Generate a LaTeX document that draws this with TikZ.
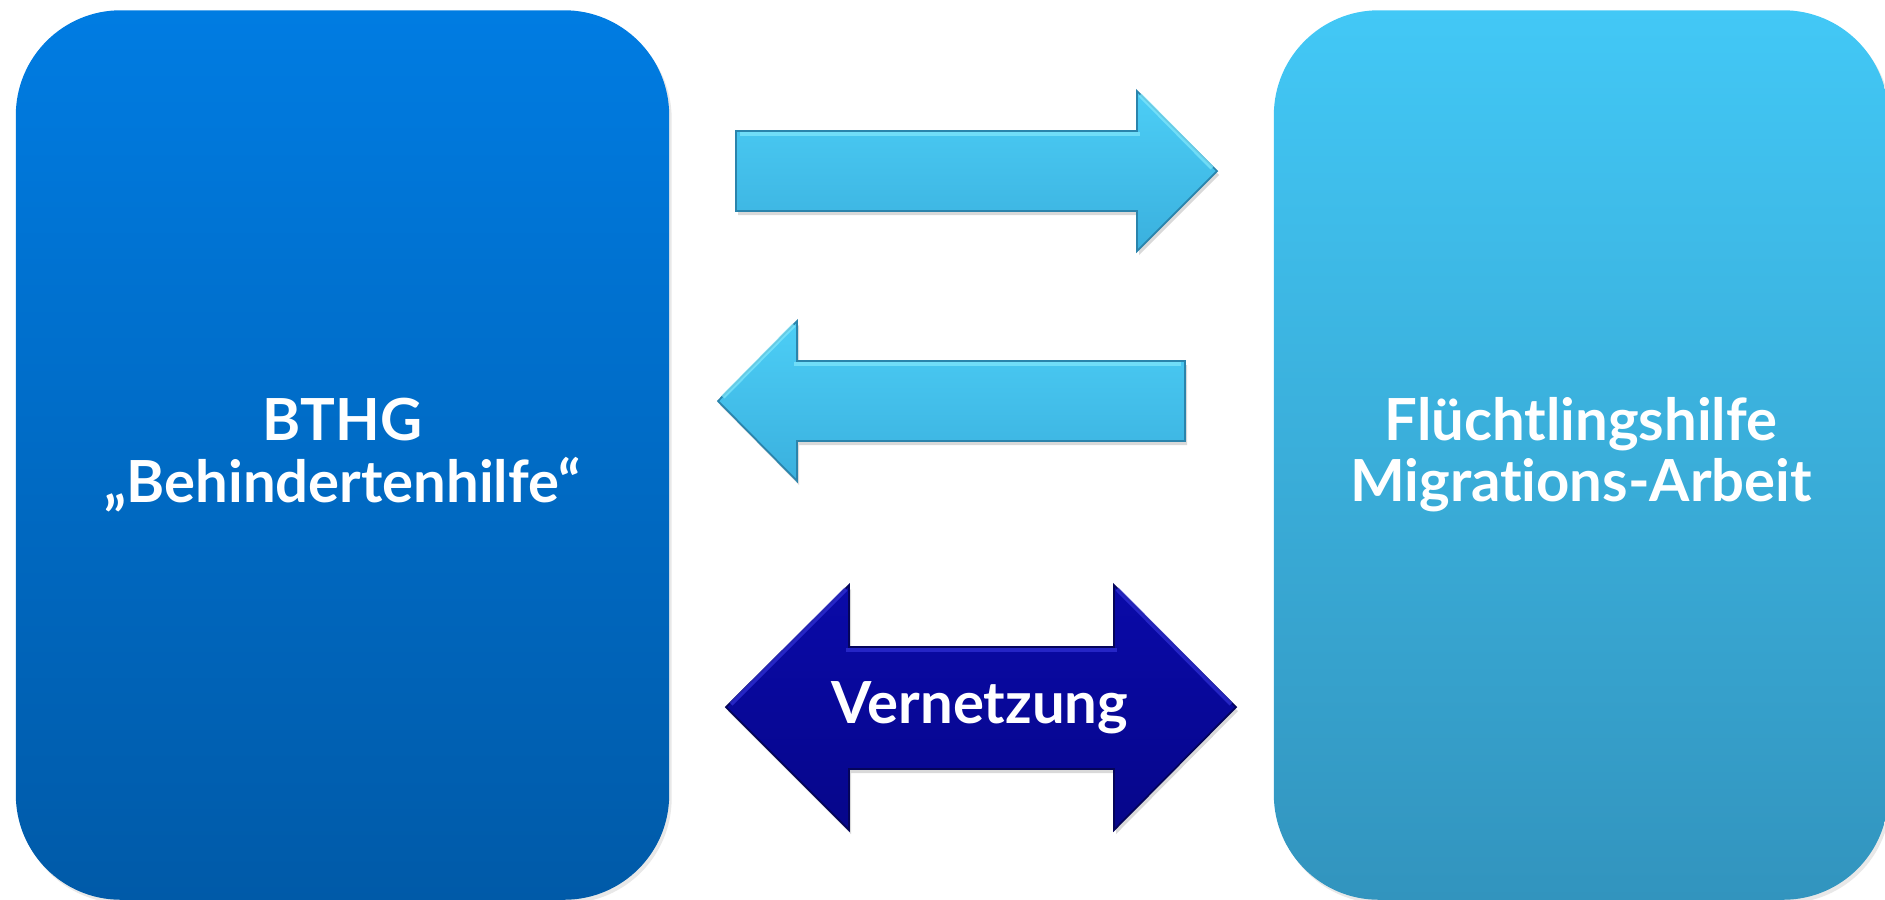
\documentclass[tikz,border=0pt]{standalone}
\usepackage{fontspec}
\setmainfont{Lato}[Ligatures={NoCommon,NoRequired}]
\usetikzlibrary{shadows}
\definecolor{lbtop}{RGB}{0,124,226}
\definecolor{lbbot}{RGB}{0,90,168}
\definecolor{rbtop}{RGB}{66,200,246}
\definecolor{rbbot}{RGB}{50,148,190}
\definecolor{artop}{RGB}{76,206,246}
\definecolor{arbot}{RGB}{58,176,222}
\definecolor{aredge}{RGB}{42,132,172}
\definecolor{arhigh}{RGB}{130,232,252}
\definecolor{dktop}{RGB}{10,10,168}
\definecolor{dkbot}{RGB}{6,6,138}
\definecolor{dkedge}{RGB}{4,4,90}
\definecolor{dkhigh}{RGB}{50,50,215}
\begin{document}
\begin{tikzpicture}[x=0.01cm,y=-0.01cm,
  panel/.style={rounded corners=1.05cm, minimum height=8.89cm, text=white,
    font=\bfseries\fontsize{16.5}{17.4}\selectfont, align=center, inner sep=0pt,
    drop shadow={shadow xshift=0.025cm, shadow yshift=-0.035cm, opacity=0.18}},
  lightarrow/.style={top color=artop, bottom color=arbot, draw=aredge, line width=0.5pt, line join=miter,
    drop shadow={shadow xshift=0.02cm, shadow yshift=-0.04cm, opacity=0.3}},
  darkarrow/.style={top color=dktop, bottom color=dkbot, draw=dkedge, line width=0.5pt, line join=miter,
    drop shadow={shadow xshift=0.02cm, shadow yshift=-0.04cm, opacity=0.3}},
  hilite/.style={line width=1.2pt, opacity=0.7},
  label/.style={text=white, font=\bfseries\fontsize{16.5}{18.8}\selectfont}]
\useasboundingbox (0,0) rectangle (1885,899);
% panels
\node[panel, minimum width=6.53cm, top color=lbtop, bottom color=lbbot] (left) at (342.5,455)
  {BTHG\\„Behindertenhilfe“};
\node[panel, minimum width=6.14cm, top color=rbtop, bottom color=rbbot] (right) at (1581,455)
  {Flüchtlingshilfe\\Migrations-Arbeit};
% arrow to the right
\path[lightarrow] (736,131) -- (1137,131) -- (1137,91) -- (1217,171) -- (1137,251) -- (1137,211) -- (736,211) -- cycle;
\draw[hilite, arhigh] (740,134) -- (1140,134);
\draw[hilite, arhigh] (1140,95) -- (1212,168);
% arrow to the left
\path[lightarrow] (1185,361) -- (797,361) -- (797,321) -- (718,401) -- (797,481) -- (797,441) -- (1185,441) -- cycle;
\draw[hilite, arhigh] (1181,364) -- (794,364);
\draw[hilite, arhigh] (794,325) -- (723,397);
% double arrow
\path[darkarrow] (726,707) -- (849,585) -- (849,647) -- (1114,647) -- (1114,585) -- (1236,707) -- (1114,830) -- (1114,769) -- (849,769) -- (849,830) -- cycle;
\draw[hilite, dkhigh] (846,650) -- (1117,650);
\draw[hilite, dkhigh] (731,704) -- (846,589);
\draw[hilite, dkhigh] (1117,589) -- (1231,704);
\node[label] (vern) at (980,708) {Vernetzung};
\end{tikzpicture}
\end{document}
